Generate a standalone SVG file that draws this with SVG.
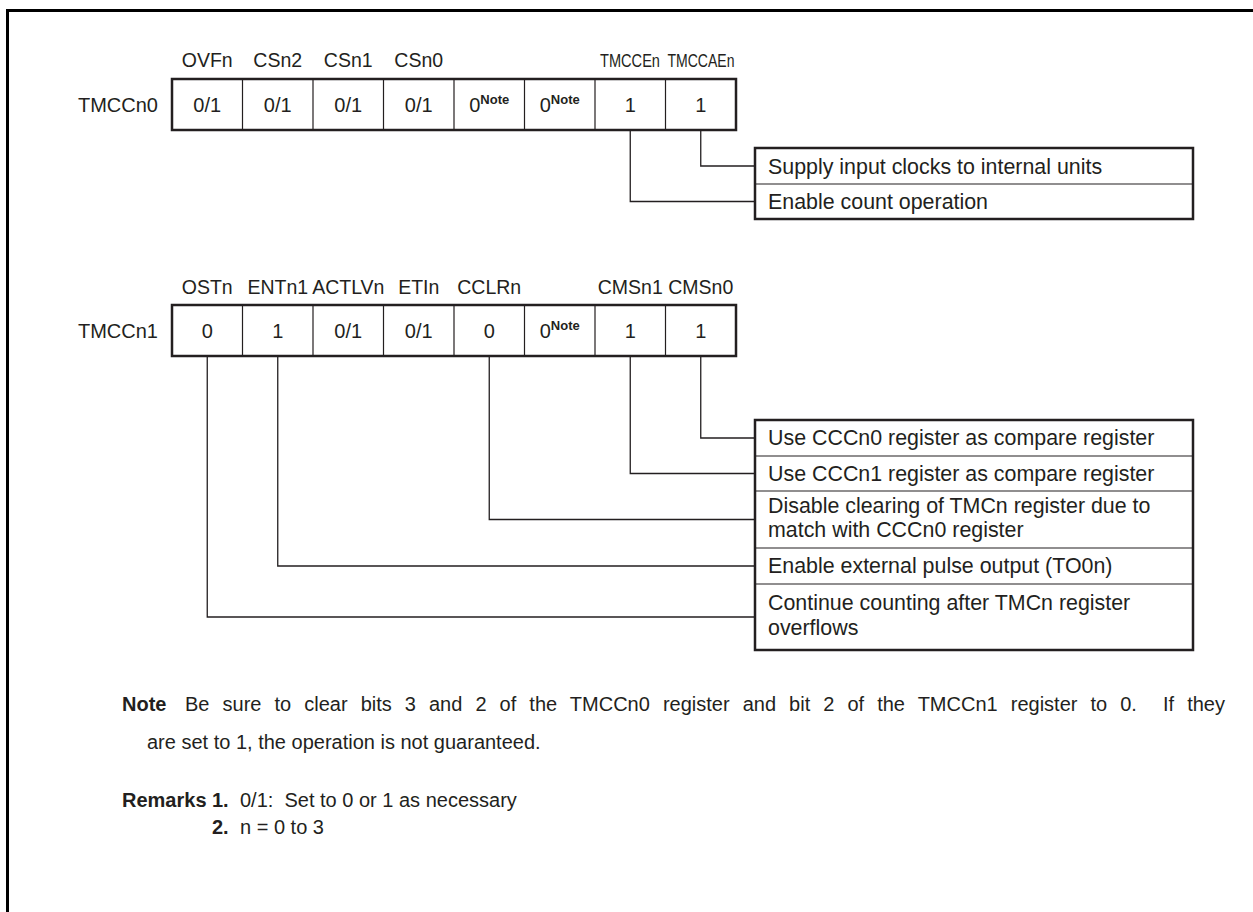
<svg xmlns="http://www.w3.org/2000/svg" width="1253" height="912" viewBox="0 0 1253 912">
<style>
text { font-family: "Liberation Sans", Arial, Helvetica, sans-serif; font-size: 20px; fill: #231f20; }
.b { font-weight: bold; }
.c { text-anchor: middle; }
.e { text-anchor: end; }
.bit { font-size: 19.5px; }
.narrow { font-size: 18px; }
.val { font-size: 20px; }
.desc { font-size: 21.4px; }
.sup { font-size: 13px; font-weight: bold; }
.outer { fill: #ffffff; stroke: #231f20; stroke-width: 2.5; }
.thin { fill: none; stroke: #231f20; stroke-width: 1.2; }
.conn { fill: none; stroke: #231f20; stroke-width: 1.3; }
.frame { fill: none; stroke: #000000; stroke-width: 3; }
</style>
<rect x="0" y="0" width="1253" height="912" fill="#ffffff"/>
<path class="frame" d="M7.5,912 V10.5 H1253"/>

<g id="connectors">
  <path class="conn" d="M700.75,130 V166 H755"/>
  <path class="conn" d="M630.25,130 V201.5 H755"/>
  <path class="conn" d="M700.75,356 V438 H755"/>
  <path class="conn" d="M630.25,356 V473.5 H755"/>
  <path class="conn" d="M489.25,356 V519.5 H755"/>
  <path class="conn" d="M277.75,356 V566 H755"/>
  <path class="conn" d="M207.25,356 V617 H755"/>
</g>

<g id="reg-tmccn0">
  <text class="e" x="158" y="112">TMCCn0</text>
  <text class="c bit" x="207.25" y="67">OVFn</text>
  <text class="c bit" x="277.75" y="67">CSn2</text>
  <text class="c bit" x="348.25" y="67">CSn1</text>
  <text class="c bit" x="418.75" y="67">CSn0</text>
  <text class="c narrow" transform="translate(630,67) scale(0.81,1)">TMCCEn</text>
  <text class="c narrow" transform="translate(701,67) scale(0.78,1)">TMCCAEn</text>
  <rect class="outer" x="172" y="79" width="564" height="51"/>
  <path class="thin" d="M242.5,79 V130 M313,79 V130 M383.5,79 V130 M454,79 V130 M524.5,79 V130 M595,79 V130 M665.5,79 V130"/>
  <text class="c val" x="207.25" y="112">0/1</text>
  <text class="c val" x="277.75" y="112">0/1</text>
  <text class="c val" x="348.25" y="112">0/1</text>
  <text class="c val" x="418.75" y="112">0/1</text>
  <text class="c val" x="489.25" y="112">0<tspan class="sup" dy="-8">Note</tspan></text>
  <text class="c val" x="559.75" y="112">0<tspan class="sup" dy="-8">Note</tspan></text>
  <text class="c val" x="630.25" y="112">1</text>
  <text class="c val" x="700.75" y="112">1</text>
</g>

<g id="desc-tmccn0">
  <rect class="outer" x="755" y="148" width="438" height="71"/>
  <path class="thin" d="M755,184 H1193"/>
  <text class="desc" x="768" y="174">Supply input clocks to internal units</text>
  <text class="desc" x="768" y="209">Enable count operation</text>
</g>

<g id="reg-tmccn1">
  <text class="e" x="158" y="338">TMCCn1</text>
  <text class="c bit" x="207.25" y="294">OSTn</text>
  <text class="c bit" x="277.75" y="294">ENTn1</text>
  <text class="c bit" x="348.25" y="294">ACTLVn</text>
  <text class="c bit" x="418.75" y="294">ETIn</text>
  <text class="c bit" x="489.25" y="294">CCLRn</text>
  <text class="c bit" x="630.25" y="294">CMSn1</text>
  <text class="c bit" x="700.75" y="294">CMSn0</text>
  <rect class="outer" x="172" y="305" width="564" height="51"/>
  <path class="thin" d="M242.5,305 V356 M313,305 V356 M383.5,305 V356 M454,305 V356 M524.5,305 V356 M595,305 V356 M665.5,305 V356"/>
  <text class="c val" x="207.25" y="338">0</text>
  <text class="c val" x="277.75" y="338">1</text>
  <text class="c val" x="348.25" y="338">0/1</text>
  <text class="c val" x="418.75" y="338">0/1</text>
  <text class="c val" x="489.25" y="338">0</text>
  <text class="c val" x="559.75" y="338">0<tspan class="sup" dy="-8">Note</tspan></text>
  <text class="c val" x="630.25" y="338">1</text>
  <text class="c val" x="700.75" y="338">1</text>
</g>

<g id="desc-tmccn1">
  <rect class="outer" x="755" y="420" width="438" height="230"/>
  <path class="thin" d="M755,456 H1193 M755,491 H1193 M755,548 H1193 M755,584 H1193"/>
  <text class="desc" x="768" y="445">Use CCCn0 register as compare register</text>
  <text class="desc" x="768" y="481">Use CCCn1 register as compare register</text>
  <text class="desc" x="768" y="513">Disable clearing of TMCn register due to</text>
  <text class="desc" x="768" y="537">match with CCCn0 register</text>
  <text class="desc" x="768" y="573">Enable external pulse output (TO0n)</text>
  <text class="desc" x="768" y="610">Continue counting after TMCn register</text>
  <text class="desc" x="768" y="635">overflows</text>
</g>

<g id="notes">
  <text class="b" x="122" y="711">Note</text>
  <text x="185" y="711" word-spacing="7.5" xml:space="preserve">Be sure to clear bits 3 and 2 of the TMCCn0 register and bit 2 of the TMCCn1 register to 0.  If they</text>
  <text x="147" y="749">are set to 1, the operation is not guaranteed.</text>
  <text class="b" x="122" y="807">Remarks</text>
  <text class="b" x="212" y="807">1.</text>
  <text x="240" y="807" xml:space="preserve">0/1:  Set to 0 or 1 as necessary</text>
  <text class="b" x="212" y="834">2.</text>
  <text x="240" y="834">n = 0 to 3</text>
</g>
</svg>
